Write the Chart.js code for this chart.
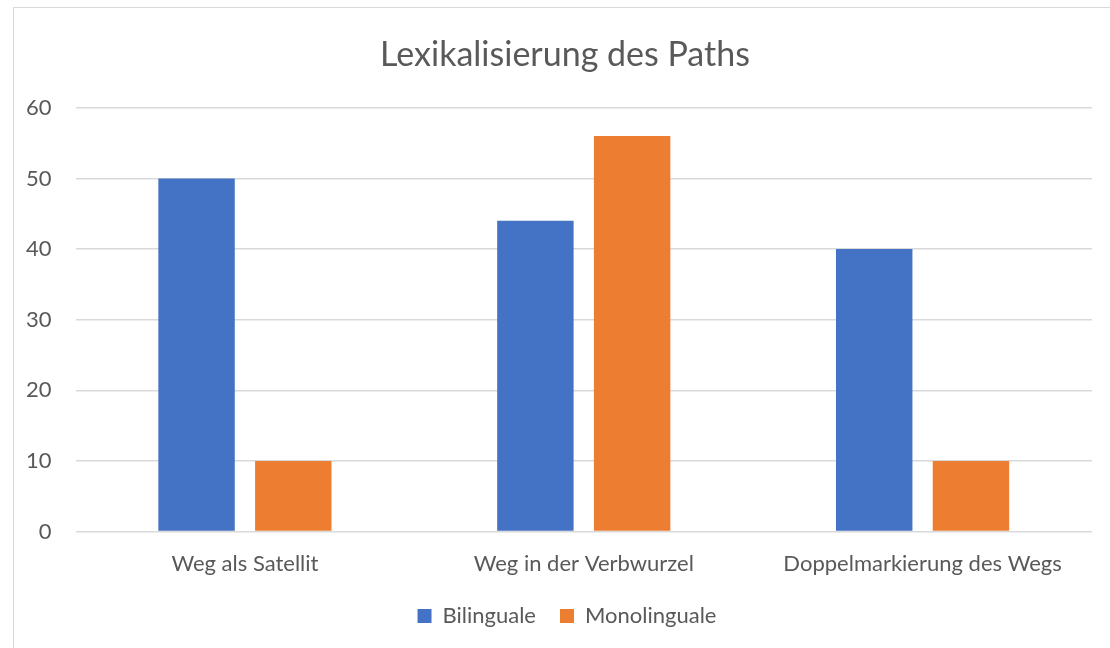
<!DOCTYPE html>
<html>
<head>
<meta charset="utf-8">
<script src="https://cdn.jsdelivr.net/npm/chart.js@4.4.1/dist/chart.umd.min.js"></script>
<style>
  html, body { margin: 0; padding: 0; background: #fff; overflow: hidden; }
  #frame { position: absolute; left: 13px; top: 7px; width: 1120px; height: 680px; border: 1px solid #d9d9d9; }
  #wrap { position: absolute; left: 0; top: 0; width: 1110px; height: 648px; }
</style>
</head>
<body>
<div id="frame"></div>
<div id="wrap"><canvas id="bar-chart"></canvas></div>
<script>
// data
var categories = ["Weg als Satellit", "Weg in der Verbwurzel", "Doppelmarkierung des Wegs"];
var bilinguale = [50, 44, 40];
var monolinguale = [10, 56, 10];
var yTicks = [0, 10, 20, 30, 40, 50, 60];

var textColor = '#595959';
var fontName = 'Lato, "Open Sans", sans-serif';

// nudge legend and title to where they sit in the original
var boxShift = {
  id: 'boxShift',
  afterLayout: function (chart) {
    var lg = chart.legend;
    lg.left += 20; lg.right += 20;
    lg.top -= 7; lg.bottom -= 7;
    var t = chart.titleBlock;
    t.left += 18; t.right += 18;
  }
};

new Chart(document.getElementById("bar-chart"), {
  type: 'bar',
  data: {
    labels: categories,
    datasets: [
      {
        label: "Bilinguale",
        backgroundColor: "#4472C4",
        data: bilinguale,
        barPercentage: 0.79,
        categoryPercentage: 0.571
      },
      {
        label: "Monolinguale",
        backgroundColor: "#ED7D31",
        data: monolinguale,
        barPercentage: 0.79,
        categoryPercentage: 0.571
      }
    ]
  },
  plugins: [boxShift],
  options: {
    responsive: true,
    maintainAspectRatio: false,
    animation: false,
    layout: { padding: { left: 2, right: 18, top: 22, bottom: 4 } },
    plugins: {
      title: {
        display: true,
        text: 'Lexikalisierung des Paths',
        color: textColor,
        font: { family: fontName, size: 34, weight: 'normal' },
        padding: { top: 13, bottom: 32 }
      },
      legend: {
        position: 'bottom',
        labels: {
          color: textColor,
          font: { family: fontName, size: 22 },
          boxWidth: 14,
          boxHeight: 14,
          padding: 24
        }
      },
      tooltip: { enabled: false }
    },
    scales: {
      x: {
        grid: { display: false },
        border: { display: false },
        ticks: { color: textColor, font: { family: fontName, size: 22 }, padding: 11 }
      },
      y: {
        min: 0,
        max: 60,
        afterBuildTicks: function (axis) {
          axis.ticks = yTicks.map(function (v) { return { value: v }; });
        },
        grid: { color: '#d9d9d9', lineWidth: 1.5, drawTicks: false },
        border: { display: false },
        ticks: { color: textColor, font: { family: fontName, size: 22 }, padding: 24 }
      }
    }
  }
});
</script>
</body>
</html>
